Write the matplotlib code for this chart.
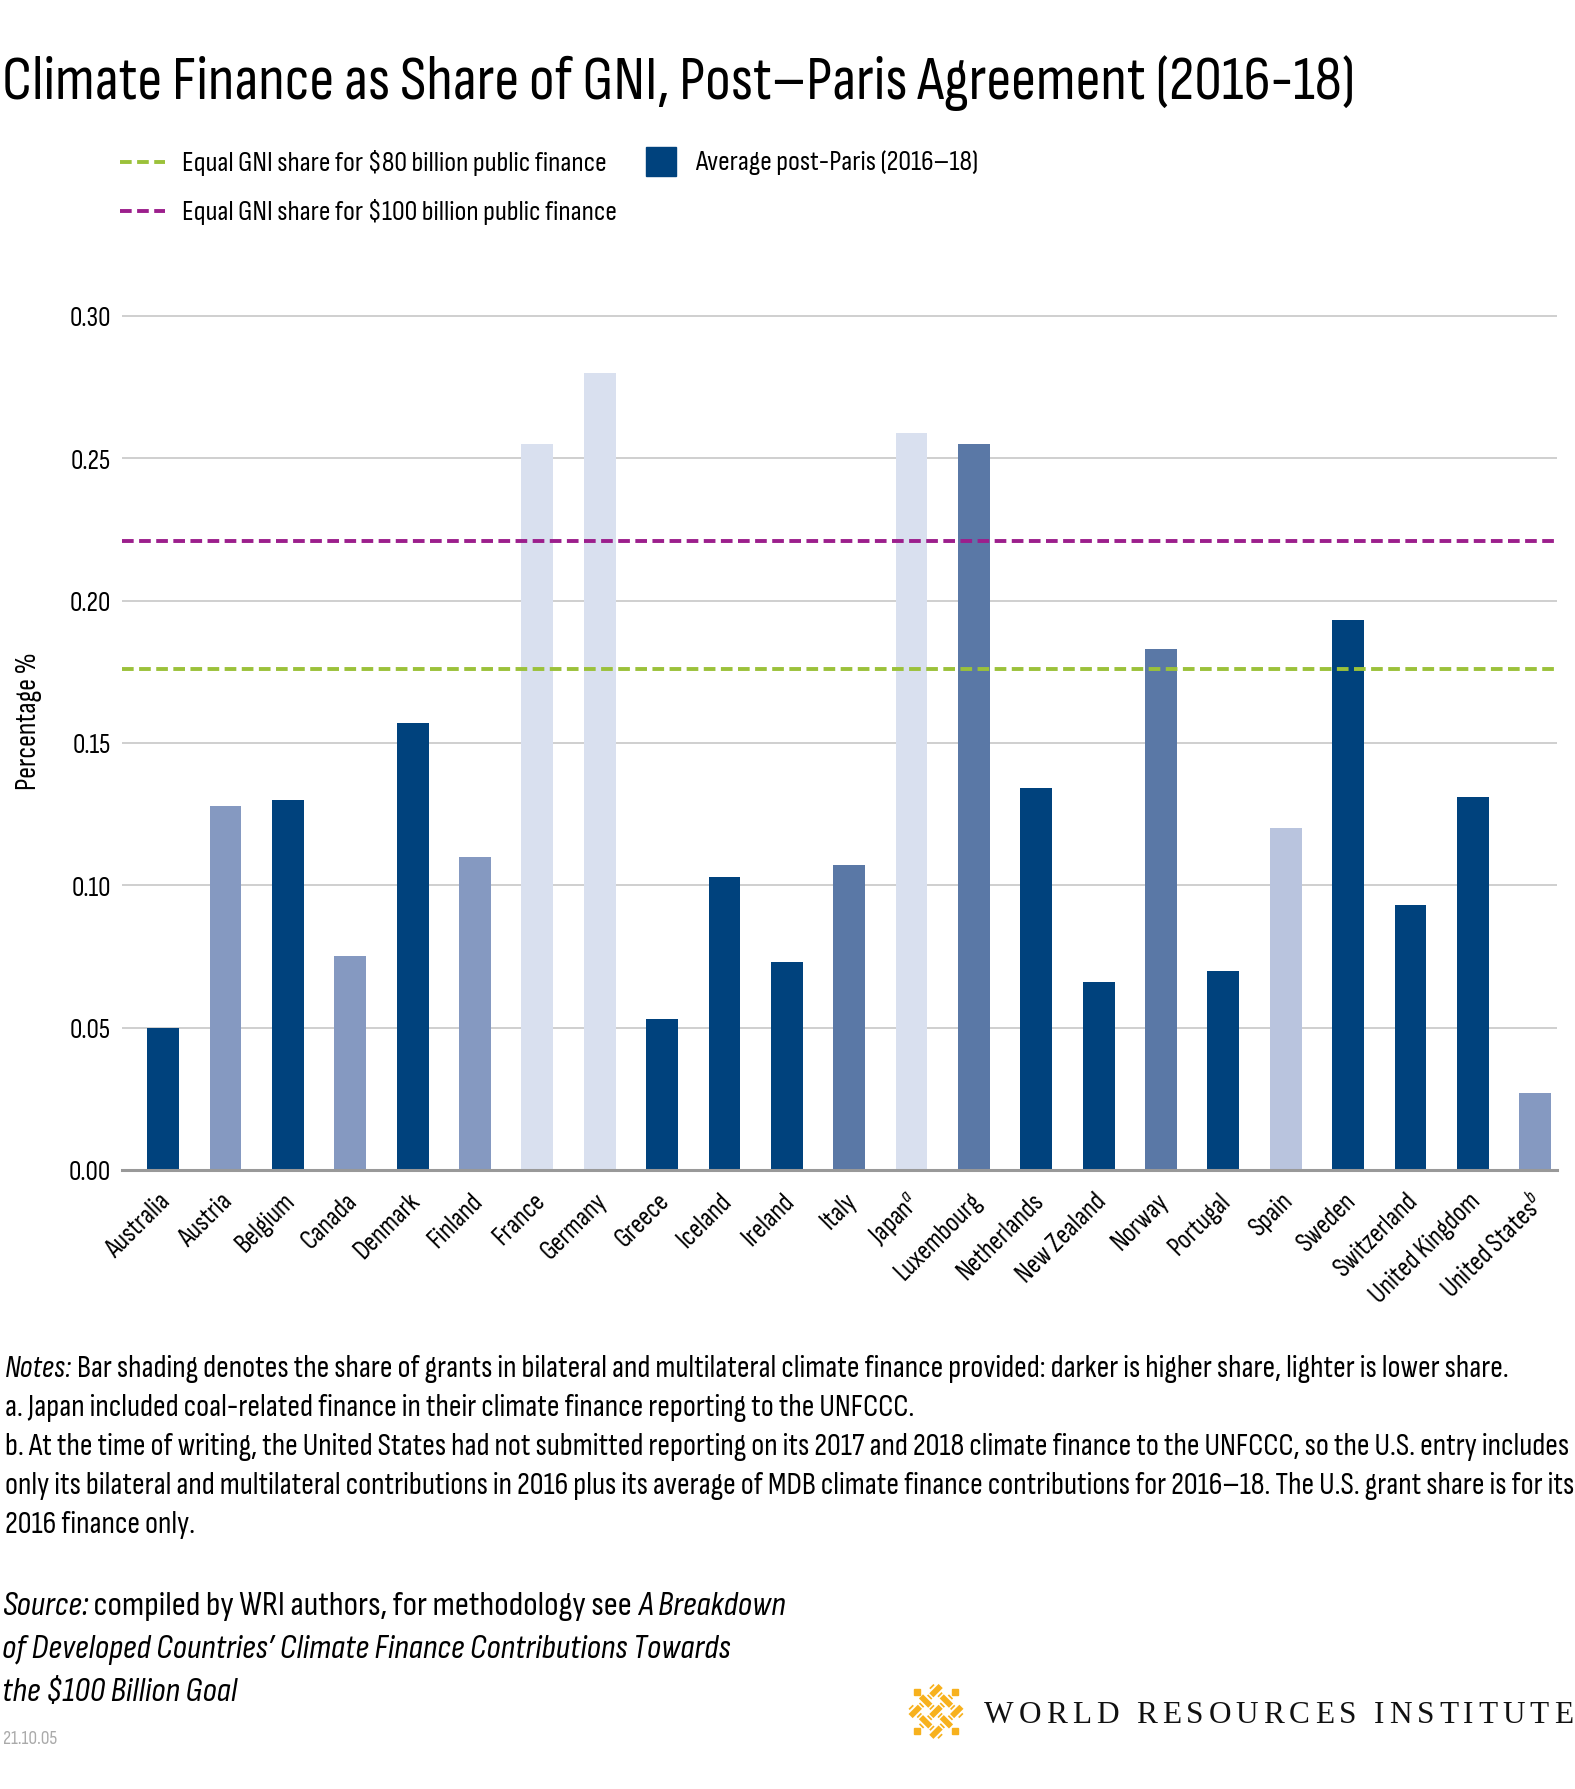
import numpy as np
import matplotlib
matplotlib.use("Agg")
import matplotlib.pyplot as plt
from matplotlib.lines import Line2D
from matplotlib.patches import Rectangle
from matplotlib.transforms import ScaledTranslation
import matplotlib.patheffects as pe

fuente_base = ['Sofia Sans Condensed', 'Barlow Condensed', 'DejaVu Sans']
plt.rcParams['font.family'] = fuente_base
plt.rcParams['mathtext.fontset'] = 'custom'
plt.rcParams['mathtext.rm'] = 'Sofia Sans Condensed'
plt.rcParams['mathtext.it'] = 'Sofia Sans Condensed:italic'

# datos
paises = ['Australia', 'Austria', 'Belgium', 'Canada', 'Denmark', 'Finland', 'France',
          'Germany', 'Greece', 'Iceland', 'Ireland', 'Italy', 'Japan$^{\\mathit{a}}$',
          'Luxembourg', 'Netherlands', 'New Zealand', 'Norway', 'Portugal', 'Spain',
          'Sweden', 'Switzerland', 'United Kingdom', 'United States$^{\\mathit{b}}$']
valores = [0.050, 0.128, 0.130, 0.075, 0.157, 0.110, 0.255, 0.280, 0.053, 0.103,
           0.073, 0.107, 0.259, 0.255, 0.134, 0.066, 0.183, 0.070, 0.120, 0.193,
           0.093, 0.131, 0.027]
# sombreado: 0 = mas oscuro (mayor parte de donaciones) ... 4 = mas claro
sombra = [0, 3, 0, 3, 0, 3, 4, 4, 0, 0, 0, 1, 4, 1, 0, 0, 1, 0, 2, 0, 0, 0, 3]
colores_sombra = ['#00427d', '#5a78a6', '#b9c4de', '#8599c1', '#d9e0ef']

linea_80 = 0.176
linea_100 = 0.221

W, H = 1575, 1790
fig = plt.figure(figsize=(W / 100, H / 100), dpi=100)
ax = fig.add_axes([122 / W, 1 - 1171 / H, (1557 - 122) / W, (1171 - 314) / H])

x = np.arange(len(paises))
ax.bar(x, valores, width=0.51, color=[colores_sombra[s] for s in sombra], zorder=3)
ax.axhline(linea_100, color='#9c1f8c', lw=2.8, ls=(0, (3, 1.4)), zorder=4)
ax.axhline(linea_80, color='#9bc13a', lw=2.8, ls=(0, (3, 1.4)), zorder=4)

ax.set_xlim(-0.66, 22.35)
ax.set_ylim(0, 0.301)
ax.set_yticks([0, 0.05, 0.10, 0.15, 0.20, 0.25, 0.30])
ax.set_yticklabels(['0.00', '0.05', '0.10', '0.15', '0.20', '0.25', '0.30'])
ax.yaxis.grid(True, color='#cccccc', lw=1.3, zorder=0)
ax.tick_params(axis='y', length=0, pad=8, labelsize=20)
ax.tick_params(axis='x', length=0, pad=13)
ax.set_xticks(x)
ax.set_xticklabels(paises, rotation=45, ha='right', va='top', rotation_mode='anchor', fontsize=19.5)
for lbl in ax.get_xticklabels():
    lbl.set_transform(lbl.get_transform() + ScaledTranslation(-5 / 100, 0, fig.dpi_scale_trans))
for s in ['top', 'right', 'left']:
    ax.spines[s].set_visible(False)
ax.spines['bottom'].set_color('#999999')
ax.spines['bottom'].set_linewidth(2.2)
ax.spines['bottom'].set_zorder(5)

fig.text(29 / W, 1 - 721 / H, 'Percentage %', rotation=90, ha='center', va='center', fontsize=21)

# titulo
fig.text(2 / W, 1 - 99 / H, 'Climate Finance as Share of GNI, Post\u2013Paris Agreement (2016-18)',
         fontsize=44.5, va='baseline')

# leyenda manual
def px(xp, yp):
    return xp / W, 1 - yp / H

for yp, col, lab in [(163, '#9bc13a', 'Equal GNI share for $80 billion public finance'),
                     (212, '#9c1f8c', 'Equal GNI share for $100 billion public finance')]:
    x0, y0 = px(120, yp)
    x1, _ = px(165, yp)
    fig.add_artist(Line2D([x0, x1], [y0, y0], color=col, lw=2.8, ls=(0, (3, 1.4)),
                          transform=fig.transFigure))
    fig.text(182 / W, y0, lab.replace('$', r'\$'), fontsize=20.5, va='center')
fig.add_artist(Rectangle(px(646, 177), 30 / W, 29 / H, color='#00427d', transform=fig.transFigure))
fig.text(695 / W, 1 - 163 / H, 'Average post-Paris (2016\u201318)', fontsize=20.5, va='center')

renderer = fig.canvas.get_renderer()

def texto_mixto(xp, yp, partes, size):
    xf = xp / W
    for t, estilo in partes:
        tt = fig.text(xf, 1 - yp / H, t, fontsize=size, style=estilo, va='baseline')
        xf += tt.get_window_extent(renderer).width / fig.bbox.width

notas = [
    [('Notes:', 'italic'), (' Bar shading denotes the share of grants in bilateral and multilateral climate finance provided: darker is higher share, lighter is lower share.', 'normal')],
    [('a. Japan included coal-related finance in their climate finance reporting to the UNFCCC.', 'normal')],
    [('b. At the time of writing, the United States had not submitted reporting on its 2017 and 2018 climate finance to the UNFCCC, so the U.S. entry includes', 'normal')],
    [('only its bilateral and multilateral contributions in 2016 plus its average of MDB climate finance contributions for 2016\u201318. The U.S. grant share is for its', 'normal')],
    [('2016 finance only.', 'normal')],
]
for i, partes in enumerate(notas):
    texto_mixto(5, 1377 + i * 39, partes, 22.5)

fuente = [
    [('Source:', 'italic'), (' compiled by WRI authors, for methodology see ', 'normal'), ('A Breakdown', 'italic')],
    [('of Developed Countries\u2019 Climate Finance Contributions Towards', 'italic')],
    [('the \\$100 Billion Goal', 'italic')],
]
for i, partes in enumerate(fuente):
    texto_mixto(2, 1615 + i * 43, partes, 25)

fig.text(3 / W, 1 - 1744 / H, '21.10.05', fontsize=14, color='#aaaaaa', va='baseline')

# logo WRI: trenzado dorado en rombo
axl = fig.add_axes([903 / W, 1 - 1745 / H, 66 / W, 66 / H])
axl.set_xlim(-2.25, 2.25)
axl.set_ylim(-0.1, 4.4)
axl.set_aspect('equal')
axl.axis('off')
oro = '#f7b11d'
borde = [pe.Stroke(linewidth=7, foreground='white'), pe.Normal()]
r2 = np.sqrt(2)

def rot(u, v):
    return (np.array(u) - np.array(v)) / r2, (np.array(u) + np.array(v)) / r2

for i in range(3):
    for j in range(3):
        arriba = (i + j) % 2 == 0
        xs, ys = rot([i + 0.05, i + 0.95], [j + 0.5, j + 0.5])
        axl.plot(xs, ys, color=oro, lw=4.2, solid_capstyle='butt', path_effects=borde,
                 zorder=3 if arriba else 2)
        xs, ys = rot([i + 0.5, i + 0.5], [j + 0.05, j + 0.95])
        axl.plot(xs, ys, color=oro, lw=4.2, solid_capstyle='butt', path_effects=borde,
                 zorder=2 if arriba else 3)
for u, v in [(-0.35, 1.5), (3.35, 1.5), (1.5, -0.35), (1.5, 3.35)]:
    xs, ys = rot([u], [v])
    axl.plot(xs, ys, marker='s', color=oro, ms=4.5, zorder=4)

letras = 'WORLD RESOURCES INSTITUTE'
piezas = []
for letra in letras:
    tt = fig.text(0, 1 - 1723 / H, letra, fontsize=22.5, family=['Liberation Serif', 'DejaVu Serif'],
                  va='baseline', color='#111111')
    piezas.append((tt, tt.get_window_extent(renderer).width))
natural = sum(w for _, w in piezas)
extra = (1573 - 984 - natural) / (len(piezas) - 1)
xp = 984
for tt, w in piezas:
    tt.set_x(xp / W)
    xp += w + extra

fig.savefig('out.png', dpi=100, facecolor='white')
